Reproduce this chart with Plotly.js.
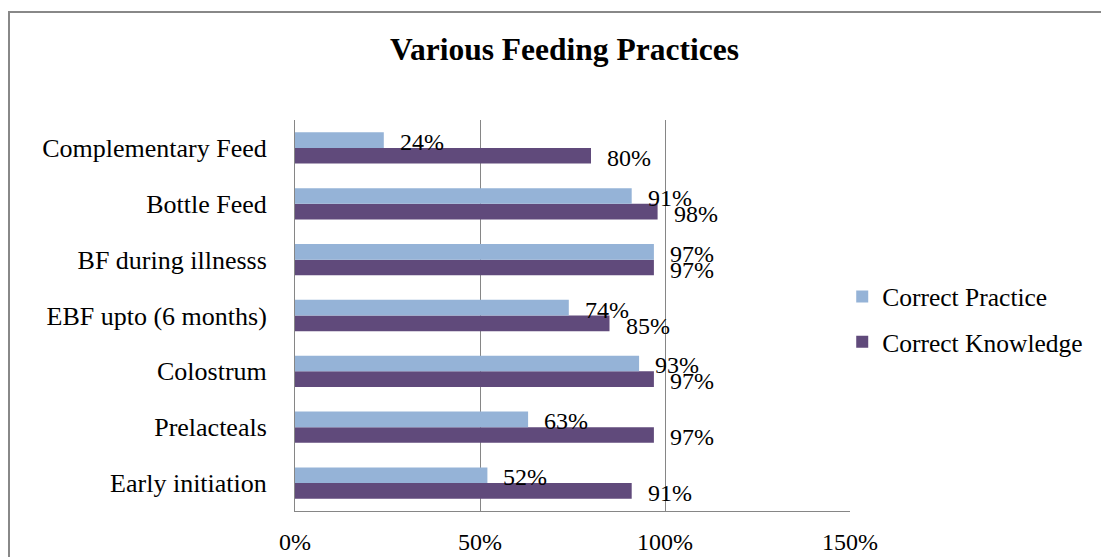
<!DOCTYPE html>
<html>
<head>
<meta charset="utf-8">
<script src="https://cdn.plot.ly/plotly-3.0.1.min.js"></script>
<style>html,body{margin:0;padding:0;background:#fff;}#chart{width:1101px;height:557px;}</style>
</head>
<body>
<div id="chart"></div>
<script>
const categories = ["Early initiation", "Prelacteals", "Colostrum", "EBF upto (6 months)", "BF during illnesss", "Bottle Feed", "Complementary Feed"];
const correctPractice = [52, 63, 93, 74, 97, 91, 24];
const correctKnowledge = [91, 97, 97, 85, 97, 98, 80];
const xTickVals = [0, 50, 100, 150];
const xTickText = ["0%", "50%", "100%", "150%"];

const FONT = "Liberation Serif, Times New Roman, serif";
const practiceColor = "#95B3D7";
const knowledgeColor = "#604A7B";
const gridColor = "#868686";

const traces = [
  {
    type: "bar", orientation: "h", name: "Correct Knowledge",
    y: categories, x: correctKnowledge,
    marker: {color: knowledgeColor, line: {width: 0}},
    legendgroup: "k", legendrank: 2, hoverinfo: "none"
  },
  {
    type: "bar", orientation: "h", name: "Correct Practice",
    y: categories, x: correctPractice,
    marker: {color: practiceColor, line: {width: 0}},
    legendgroup: "p", legendrank: 1, hoverinfo: "none"
  }
];

const annotations = [];
categories.forEach((c, i) => {
  annotations.push({x: correctPractice[i], y: c, xref: "x", yref: "y", text: correctPractice[i] + "%",
    showarrow: false, xanchor: "left", yanchor: "middle", xshift: 14, yshift: 6,
    font: {family: FONT, size: 24, color: "#000"}});
  annotations.push({x: correctKnowledge[i], y: c, xref: "x", yref: "y", text: correctKnowledge[i] + "%",
    showarrow: false, xanchor: "left", yanchor: "middle", xshift: 14, yshift: -10,
    font: {family: FONT, size: 24, color: "#000"}});
});

const layout = {
  width: 1101, height: 557,
  margin: {l: 295, r: 251, t: 120, b: 46, pad: 0, autoexpand: false},
  paper_bgcolor: "#fff", plot_bgcolor: "#fff",
  font: {family: FONT, color: "#000"},
  title: {
    text: "<b>Various Feeding Practices</b>",
    font: {family: FONT, size: 31.5, color: "#000"},
    x: 564.5 / 1101, xref: "container", xanchor: "center",
    y: 1 - 49 / 557, yref: "container", yanchor: "middle"
  },
  barmode: "group", bargap: 0.44, bargroupgap: 0,
  xaxis: {
    range: [0, 150], tickvals: xTickVals, ticktext: xTickText,
    showgrid: true, gridcolor: gridColor, gridwidth: 1,
    showline: true, linecolor: gridColor, linewidth: 1,
    zeroline: false, ticks: "outside", ticklen: 9, tickcolor: "rgba(0,0,0,0)",
    tickfont: {family: FONT, size: 24, color: "#000"}, fixedrange: true
  },
  yaxis: {
    type: "category", categoryorder: "array", categoryarray: categories,
    showgrid: false, showline: true, linecolor: gridColor, linewidth: 1,
    zeroline: false, ticks: "outside", ticklen: 22, tickcolor: "rgba(0,0,0,0)",
    tickfont: {family: FONT, size: 26, color: "#000"}, fixedrange: true
  },
  showlegend: true,
  legend: {
    x: 0.986, xanchor: "left", y: 0.49, yanchor: "middle",
    traceorder: "grouped", tracegroupgap: 9,
    font: {family: FONT, size: 25.5, color: "#000"},
    bgcolor: "rgba(0,0,0,0)", borderwidth: 0, itemwidth: 30
  },
  annotations: annotations,
  shapes: [
    {type: "rect", xref: "paper", yref: "paper",
     x0: (9 - 295) / 555, x1: (1115 - 295) / 555,
     y0: (511 - 570) / 391, y1: (511 - 12) / 391,
     line: {color: "#888888", width: 2}, fillcolor: "rgba(0,0,0,0)", layer: "below"}
  ]
};

Plotly.newPlot("chart", traces, layout, {displayModeBar: false, staticPlot: true});
</script>
</body>
</html>
